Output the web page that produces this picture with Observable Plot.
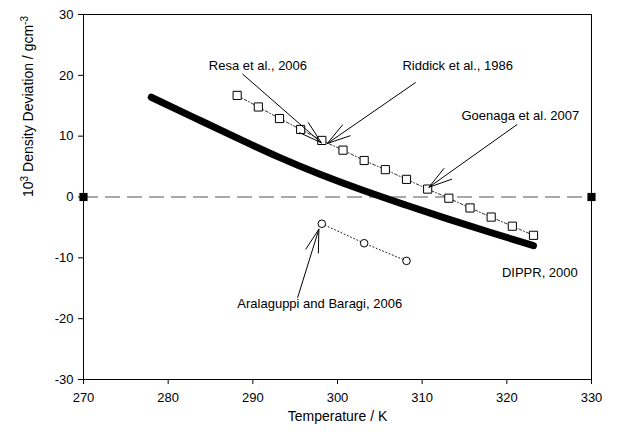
<!DOCTYPE html>
<html>
<head>
<meta charset="utf-8">
<script src="https://cdn.jsdelivr.net/npm/d3@7"></script>
<script src="https://cdn.jsdelivr.net/npm/@observablehq/plot@0.6"></script>
<style>
  html, body { margin: 0; padding: 0; background: #fff; }
  #chart { width: 618px; height: 439px; }
</style>
</head>
<body>
<div id="chart"></div>
<script>
// --- data ---
const xTicks = [270, 280, 290, 300, 310, 320, 330];
const yTicks = [-30, -20, -10, 0, 10, 20, 30];

// DIPPR, 2000 correlation (thick curve)
const dipprT = [278, 283, 288, 293, 298, 303, 308, 313, 318, 323.15];
const dipprV = [16.4, 13.1, 9.8, 6.6, 3.7, 1.1, -1.3, -3.6, -5.8, -8.0];

// Experimental (squares)
const sqT = [288.15, 290.65, 293.15, 295.65, 298.15, 300.65, 303.15, 305.65, 308.15, 310.65, 313.15, 315.65, 318.15, 320.65, 323.15];
const sqV = [16.7, 14.8, 12.9, 11.1, 9.3, 7.7, 6.0, 4.5, 2.9, 1.3, -0.2, -1.8, -3.3, -4.8, -6.3];

// Aralaguppi and Baragi, 2006 (circles)
const ciT = [298.15, 303.15, 308.15];
const ciV = [-4.4, -7.6, -10.5];

// zero reference end markers
const refT = [270, 330];
const refV = [0, 0];

// annotations
const labels = ["Resa et al., 2006", "Riddick et al., 1986", "Goenaga et al. 2007", "DIPPR, 2000", "Aralaguppi and Baragi, 2006"];
const labelT = [290.6, 314.2, 321.6, 323.9, 297.9];
const labelV = [21.6, 21.6, 13.4, -12.4, -17.6];

const arrowT1 = [288.8, 309.2, 321.2, 295.3];
const arrowV1 = [20.2, 18.8, 11.9, -16.5];
const arrowT2 = [298.1, 298.8, 310.8, 297.8];
const arrowV2 = [8.9, 8.8, 1.6, -5.3];

const yLabel = "10³ Density Deviation / gcm⁻³";
const xLabel = "Temperature / K";

// --- build tables ---
const dippr = dipprT.map((t, i) => ({t, v: dipprV[i]}));
const squares = sqT.map((t, i) => ({t, v: sqV[i]}));
const circles = ciT.map((t, i) => ({t, v: ciV[i]}));
const refs = refT.map((t, i) => ({t, v: refV[i]}));
const notes = labels.map((s, i) => ({s, t: labelT[i], v: labelV[i]}));
const arrows = arrowT1.map((t1, i) => ({t1, v1: arrowV1[i], t2: arrowT2[i], v2: arrowV2[i]}));

const fmt = d => String(d);

const chart = Plot.plot({
  width: 618,
  height: 439,
  marginLeft: 83,
  marginRight: 27,
  marginTop: 14,
  marginBottom: 60,
  style: {fontFamily: "'Liberation Sans', Arial, sans-serif", fontSize: "13px", color: "black", background: "white"},
  x: {domain: [270, 330]},
  y: {domain: [-30, 30]},
  marks: [
    Plot.axisX({ticks: xTicks, tickFormat: fmt, tickSize: 5, tickPadding: 8, label: null, fontSize: 13}),
    Plot.axisY({ticks: yTicks, tickFormat: fmt, tickSize: 5, tickPadding: 5, label: null, fontSize: 13}),
    Plot.frame({stroke: "black"}),
    Plot.ruleY([0], {stroke: "#555", strokeWidth: 1.2, strokeDasharray: "15,7"}),
    Plot.dot(refs, {x: "t", y: "v", symbol: "square", r: 4.6, fill: "black", stroke: "none"}),
    Plot.line(dippr, {x: "t", y: "v", stroke: "black", strokeWidth: 7, strokeLinecap: "round", curve: "natural"}),
    Plot.line(squares, {x: "t", y: "v", stroke: "black", strokeWidth: 0.8, strokeDasharray: "3,2,1,2"}),
    Plot.dot(squares, {x: "t", y: "v", symbol: "square", r: 4.6, fill: "white", stroke: "black", strokeWidth: 1}),
    Plot.line(circles, {x: "t", y: "v", stroke: "black", strokeWidth: 0.9, strokeDasharray: "1,2.5"}),
    Plot.dot(circles, {x: "t", y: "v", r: 3.8, fill: "white", stroke: "black", strokeWidth: 1}),
    Plot.arrow(arrows, {x1: "t1", y1: "v1", x2: "t2", y2: "v2", stroke: "black", strokeWidth: 1, headAngle: 32, headLength: 36}),
    Plot.text(notes, {x: "t", y: "v", text: "s", fontSize: 13, fill: "black"}),
    Plot.text([xLabel], {frameAnchor: "bottom", dy: 41, fontSize: 14, fill: "black"}),
    Plot.text([yLabel], {frameAnchor: "left", rotate: -90, dx: -55, fontSize: 14, fill: "black"})
  ]
});

// turn the y label into real superscripts
d3.select(chart).selectAll("text").filter(function() { return this.textContent === yLabel; })
  .each(function() {
    const t = d3.select(this);
    t.text(null);
    t.append("tspan").text("10");
    t.append("tspan").attr("font-size", "10px").attr("dy", "-5").text("3");
    t.append("tspan").attr("dy", "5").text(" Density Deviation / gcm");
    t.append("tspan").attr("font-size", "10px").attr("dy", "-5").text("-3");
  });

document.getElementById("chart").appendChild(chart);
</script>
</body>
</html>
